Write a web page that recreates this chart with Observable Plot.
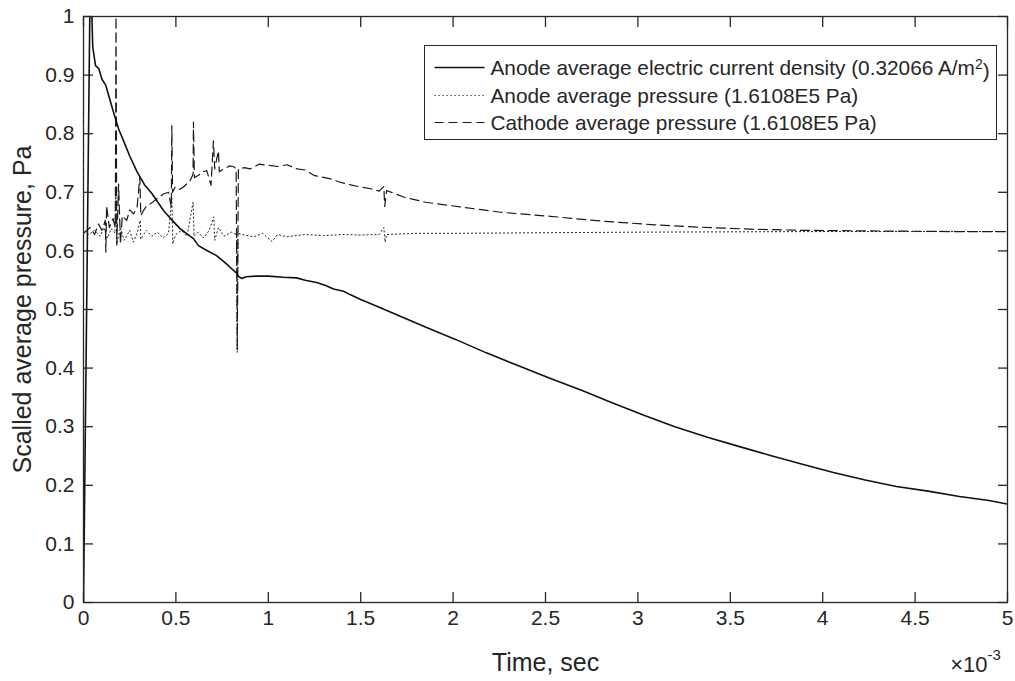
<!DOCTYPE html>
<html><head><meta charset="utf-8">
<script src="https://cdn.jsdelivr.net/npm/d3@7"></script>
<script src="https://cdn.jsdelivr.net/npm/@observablehq/plot@0.6"></script>
<style>html,body{margin:0;padding:0;background:#fff;overflow:hidden}</style>
</head><body><div id="chart"></div>
<script>
// time in units of 1e-3 s
const currentT = [0,0.034,0.042,0.05,0.065,0.083,0.1,0.12,0.164,0.19,0.218,0.25,0.29,0.33,0.37,0.433,0.48,0.523,0.56,0.595,0.622,0.66,0.72,0.78,0.828,0.84,0.857,0.88,0.936,1.0,1.082,1.153,1.2,1.261,1.31,1.353,1.407,1.445,1.5,1.6,1.717,1.85,2.013,2.18,2.354,2.52,2.695,2.86,3.036,3.2,3.376,3.55,3.717,3.89,4.058,4.23,4.399,4.57,4.74,4.9,5.0];
const currentV = [0,1.0,1.04,0.948,0.916,0.911,0.893,0.883,0.835,0.808,0.787,0.762,0.735,0.713,0.698,0.669,0.652,0.638,0.629,0.621,0.609,0.602,0.592,0.576,0.562,0.556,0.553,0.556,0.557,0.557,0.555,0.554,0.55,0.546,0.541,0.535,0.531,0.525,0.517,0.504,0.488,0.470,0.449,0.426,0.404,0.383,0.362,0.341,0.319,0.300,0.282,0.266,0.251,0.236,0.222,0.209,0.198,0.190,0.181,0.174,0.168];

const anodeT = [0,0.03,0.06,0.09,0.11,0.13,0.15,0.17,0.175,0.18,0.2,0.22,0.25,0.27,0.29,0.307,0.31,0.34,0.37,0.4,0.43,0.46,0.478,0.483,0.5,0.53,0.56,0.593,0.598,0.62,0.65,0.68,0.705,0.71,0.73,0.76,0.8,0.828,0.832,0.836,0.87,0.92,0.97,1.02,1.05,1.1,1.2,1.3,1.4,1.5,1.6,1.625,1.632,1.64,1.8,2.0,2.5,3.0,4.0,5.0];
const anodeV = [0.632,0.628,0.635,0.625,0.640,0.622,0.638,0.630,0.700,0.612,0.640,0.618,0.635,0.615,0.630,0.652,0.620,0.635,0.625,0.632,0.622,0.630,0.692,0.612,0.628,0.635,0.625,0.683,0.625,0.632,0.622,0.635,0.658,0.618,0.640,0.625,0.632,0.628,0.427,0.630,0.627,0.624,0.630,0.616,0.628,0.624,0.628,0.626,0.628,0.627,0.628,0.640,0.615,0.628,0.630,0.630,0.631,0.632,0.633,0.633];

const cathodeT = [0,0.036,0.06,0.081,0.1,0.118,0.121,0.125,0.14,0.16,0.172,0.176,0.18,0.19,0.2,0.21,0.234,0.25,0.271,0.29,0.305,0.31,0.325,0.343,0.37,0.397,0.433,0.46,0.475,0.478,0.482,0.496,0.52,0.541,0.577,0.593,0.595,0.6,0.622,0.645,0.667,0.69,0.703,0.71,0.73,0.735,0.758,0.79,0.812,0.826,0.832,0.838,0.87,0.902,0.95,1.0,1.05,1.1,1.156,1.2,1.246,1.29,1.337,1.38,1.427,1.5,1.553,1.6,1.625,1.63,1.64,1.732,1.85,2.04,2.257,2.527,2.798,3.068,3.3,3.61,3.9,4.3,4.7,5.0];
const cathodeV = [0.630,0.640,0.628,0.646,0.635,0.652,0.598,0.677,0.640,0.655,0.640,1.0,0.610,0.714,0.612,0.660,0.652,0.670,0.663,0.675,0.726,0.660,0.669,0.677,0.682,0.689,0.697,0.700,0.675,0.814,0.700,0.709,0.705,0.709,0.720,0.731,0.820,0.725,0.729,0.735,0.737,0.712,0.788,0.740,0.771,0.735,0.740,0.745,0.744,0.740,0.430,0.740,0.742,0.740,0.748,0.746,0.744,0.747,0.740,0.738,0.729,0.726,0.723,0.718,0.714,0.709,0.706,0.702,0.710,0.676,0.703,0.692,0.683,0.675,0.666,0.659,0.651,0.645,0.641,0.637,0.635,0.634,0.633,0.633];

const xTicks = [0,0.5,1,1.5,2,2.5,3,3.5,4,4.5,5];
const yTicks = [0,0.1,0.2,0.3,0.4,0.5,0.6,0.7,0.8,0.9,1];
const xLabel = "Time, sec";
const yLabel = "Scalled average pressure, Pa";
const xExponent = ["×10", "-3"];
const legendNames = ["Anode average electric current density (0.32066 A/m", "Anode average pressure (1.6108E5 Pa)", "Cathode average pressure (1.6108E5 Pa)"];

const current = currentT.map((t, i) => ({t, v: currentV[i]}));
const anode = anodeT.map((t, i) => ({t, v: anodeV[i]}));
const cathode = cathodeT.map((t, i) => ({t, v: cathodeV[i]}));

const INK = "#262626";
const FONT = "Liberation Sans, Arial, sans-serif";
const styles = {
  current: {stroke: "#111", strokeWidth: 1.6, strokeDasharray: null},
  anode: {stroke: "#222", strokeWidth: 1, strokeDasharray: "1.2,2.8"},
  cathode: {stroke: "#1a1a1a", strokeWidth: 1.2, strokeDasharray: "9,5"}
};
const fmt = d => String(+(+d).toFixed(1));
const tickX = {ticks: xTicks, tickFormat: fmt, label: null};
const tickY = {ticks: yTicks, tickFormat: fmt, label: null};

const chart = Plot.plot({
  width: 1015, height: 681,
  marginLeft: 83, marginRight: 8, marginTop: 16, marginBottom: 79,
  style: {fontFamily: FONT, background: "#fff", color: INK, overflow: "visible"},
  x: {domain: [0, 5]},
  y: {domain: [0, 1]},
  marks: [
    Plot.line(anode, {x: "t", y: "v", clip: true, ...styles.anode}),
    Plot.line(cathode, {x: "t", y: "v", clip: true, ...styles.cathode}),
    Plot.line(current, {x: "t", y: "v", clip: true, ...styles.current}),
    Plot.frame({stroke: INK, strokeWidth: 1.3}),
    // inward ticks on all four sides
    Plot.axisX({...tickX, anchor: "bottom", tickSize: 10, dy: -10, fill: "none", stroke: INK, strokeWidth: 1.3}),
    Plot.axisX({...tickX, anchor: "top", tickSize: 10, dy: 10, fill: "none", stroke: INK, strokeWidth: 1.3}),
    Plot.axisY({...tickY, anchor: "left", tickSize: 10, dx: 10, fill: "none", stroke: INK, strokeWidth: 1.3}),
    Plot.axisY({...tickY, anchor: "right", tickSize: 10, dx: -10, fill: "none", stroke: INK, strokeWidth: 1.3}),
    // tick labels
    Plot.axisX({...tickX, anchor: "bottom", tickSize: 0, tickPadding: 8, fontSize: 21, fill: INK}),
    Plot.axisY({...tickY, anchor: "left", tickSize: 0, tickPadding: 9, fontSize: 21, fill: INK}),
    // axis titles
    Plot.text([xLabel], {text: d => d, frameAnchor: "bottom", textAnchor: "middle", dy: 60, fontSize: 25, fill: INK, lineAnchor: "middle"}),
    Plot.text([yLabel], {text: d => d, frameAnchor: "left", textAnchor: "middle", dx: -61, rotate: -90, fontSize: 25, fill: INK, lineAnchor: "middle"}),
    Plot.text([xExponent[0]], {text: d => d, frameAnchor: "bottom-right", textAnchor: "end", dx: -20, dy: 62, fontSize: 22, fill: INK, lineAnchor: "middle"}),
    Plot.text([xExponent[1]], {text: d => d, frameAnchor: "bottom-right", textAnchor: "start", dx: -20, dy: 53, fontSize: 15, fill: INK, lineAnchor: "middle"})
  ]
});
document.getElementById("chart").appendChild(chart);

// legend inside the axes (upper right)
const svg = d3.select(chart);
const lg = svg.append("g").attr("transform", "translate(424.5,45.5)");
lg.append("rect").attr("width", 572).attr("height", 94).attr("fill", "#fff").attr("stroke", INK).attr("stroke-width", 1);
const keys = ["current", "anode", "cathode"];
const rowY = [22, 50, 77];
keys.forEach((k, i) => {
  const s = styles[k];
  lg.append("line").attr("x1", 10).attr("x2", 60).attr("y1", rowY[i]).attr("y2", rowY[i])
    .attr("stroke", s.stroke).attr("stroke-width", s.strokeWidth)
    .attr("stroke-dasharray", s.strokeDasharray);
  const t = lg.append("text").attr("x", 66).attr("y", rowY[i]).attr("dy", "0.36em")
    .attr("text-anchor", "start")
    .attr("font-family", FONT).attr("font-size", 20.8).attr("fill", INK).text(legendNames[i]);
  if (i === 0) {
    t.append("tspan").attr("dy", "-0.45em").attr("font-size", 14).text("2");
    t.append("tspan").attr("dy", "0.45em").text(")");
  }
});
</script>
</body></html>
